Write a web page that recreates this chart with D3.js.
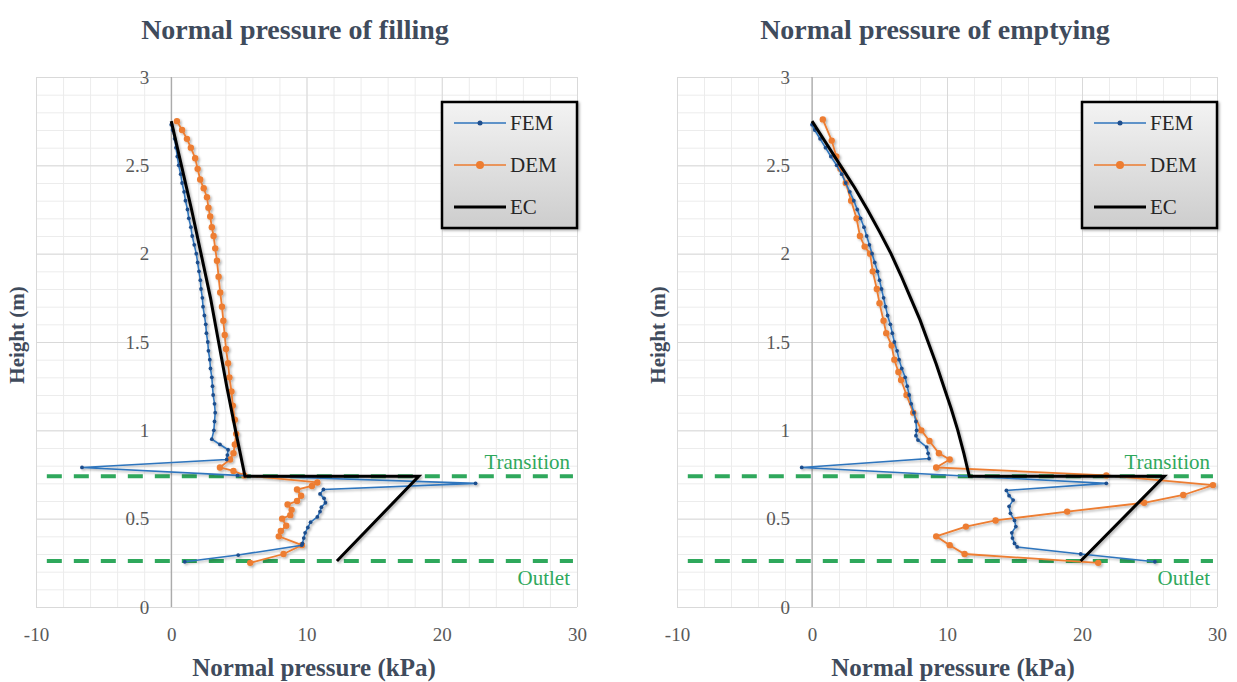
<!DOCTYPE html>
<html>
<head>
<meta charset="utf-8">
<script src="https://d3js.org/d3.v7.min.js"></script>
<style>
  body { margin: 0; background: #fff; }
  svg { display: block; }
  svg text { font-family: "Liberation Serif", "Times New Roman", "DejaVu Serif", serif !important; }
</style>
</head>
<body>
<div id="chart"></div>
<script>
// axis ticks
var xTicks = [-10, 0, 10, 20, 30];
var yTicks = [0, 0.5, 1, 1.5, 2, 2.5, 3];
var legendNames = ["FEM", "DEM", "EC"];
var transitionHeight = 0.74;
var outletHeight = 0.26;

// points are [normal pressure (kPa), height (m)]
var fillingFEM = [
  [0.0, 2.73], [0.1, 2.7], [0.25, 2.65], [0.35, 2.6], [0.45, 2.55], [0.55, 2.5], [0.7, 2.45], [0.8, 2.4],
  [0.95, 2.35], [1.05, 2.3], [1.2, 2.25], [1.3, 2.2], [1.45, 2.15], [1.55, 2.1], [1.7, 2.05], [1.85, 2.0],
  [1.95, 1.95], [2.05, 1.9], [2.15, 1.85], [2.2, 1.8], [2.3, 1.75], [2.35, 1.7], [2.45, 1.65], [2.55, 1.6],
  [2.6, 1.55], [2.7, 1.5], [2.75, 1.45], [2.85, 1.4], [2.9, 1.35], [3.0, 1.3], [3.05, 1.25], [3.1, 1.2],
  [3.2, 1.15], [3.25, 1.1], [3.2, 1.05], [3.15, 1.0], [3.0, 0.95], [3.6, 0.92], [4.2, 0.89], [4.15, 0.86],
  [4.1, 0.835], [-6.6, 0.79], [4.9, 0.745], [22.5, 0.7], [11.25, 0.665], [11.0, 0.64], [11.3, 0.615],
  [11.4, 0.59], [11.1, 0.565], [11.0, 0.54], [10.8, 0.51], [10.3, 0.48], [10.1, 0.45], [9.9, 0.42],
  [9.8, 0.39], [9.7, 0.36], [9.65, 0.35], [4.95, 0.294], [1.0, 0.256]
];
var fillingDEM = [
  [0.42, 2.75], [0.8, 2.7], [1.16, 2.65], [1.45, 2.6], [1.77, 2.54], [1.95, 2.48], [2.14, 2.42], [2.4, 2.37],
  [2.64, 2.32], [2.75, 2.26], [2.88, 2.21], [3.0, 2.15], [3.13, 2.1], [3.25, 2.03], [3.38, 1.96], [3.5, 1.87],
  [3.62, 1.78], [3.75, 1.7], [3.85, 1.62], [3.95, 1.54], [4.05, 1.46], [4.2, 1.38], [4.3, 1.3], [4.45, 1.22],
  [4.55, 1.14], [4.7, 1.06], [4.8, 0.98], [4.7, 0.92], [4.6, 0.87], [4.35, 0.835], [3.6, 0.79], [4.6, 0.77],
  [5.4, 0.745], [10.8, 0.705], [10.4, 0.685], [9.3, 0.665], [9.6, 0.63], [9.3, 0.6], [8.6, 0.58], [8.9, 0.55],
  [8.8, 0.52], [8.2, 0.5], [8.5, 0.46], [8.1, 0.43], [7.95, 0.4], [9.66, 0.35], [8.3, 0.3], [5.84, 0.25]
];
var fillingEC = [
  [0.0, 2.75], [0.75, 2.5], [1.5, 2.25], [2.2, 2.0], [2.9, 1.75], [3.5, 1.5], [4.1, 1.25], [4.75, 1.0],
  [5.45, 0.74], [18.3, 0.74], [12.25, 0.26]
];

var emptyingFEM = [
  [0.0, 2.73], [0.2, 2.7], [0.6, 2.65], [1.0, 2.6], [1.4, 2.55], [1.83, 2.5], [2.2, 2.45], [2.5, 2.4],
  [2.8, 2.35], [3.1, 2.3], [3.35, 2.25], [3.6, 2.2], [3.85, 2.15], [4.05, 2.1], [4.25, 2.05], [4.45, 2.0],
  [4.65, 1.95], [4.85, 1.9], [5.0, 1.85], [5.15, 1.8], [5.3, 1.75], [5.45, 1.7], [5.6, 1.65], [5.8, 1.6],
  [5.95, 1.55], [6.1, 1.5], [6.3, 1.45], [6.45, 1.4], [6.65, 1.35], [6.9, 1.3], [7.05, 1.25], [7.2, 1.2],
  [7.35, 1.15], [7.55, 1.1], [7.7, 1.05], [7.75, 1.0], [7.7, 0.97], [7.85, 0.945], [8.5, 0.905],
  [8.6, 0.87], [8.67, 0.84], [-0.76, 0.79], [21.8, 0.7], [14.4, 0.66], [14.6, 0.63], [14.9, 0.605],
  [14.6, 0.57], [14.7, 0.53], [15.0, 0.49], [15.1, 0.455], [14.8, 0.42], [14.85, 0.39], [15.0, 0.36],
  [15.2, 0.34], [19.9, 0.3], [25.4, 0.256]
];
var emptyingDEM = [
  [0.8, 2.76], [1.46, 2.64], [1.8, 2.55], [2.1, 2.48], [2.5, 2.4], [2.9, 2.3], [3.3, 2.2], [3.55, 2.1],
  [3.9, 2.04], [4.3, 2.0], [4.5, 1.9], [4.8, 1.8], [5.0, 1.72], [5.3, 1.62], [5.5, 1.55], [5.9, 1.48],
  [6.1, 1.4], [6.4, 1.33], [6.6, 1.285], [7.0, 1.2], [7.5, 1.1], [8.1, 1.0], [8.7, 0.94], [9.4, 0.87],
  [10.2, 0.835], [9.2, 0.79], [21.8, 0.745], [29.7, 0.69], [27.5, 0.634], [24.6, 0.59], [18.9, 0.54],
  [13.6, 0.49], [11.4, 0.455], [9.2, 0.4], [10.2, 0.35], [11.3, 0.3], [21.2, 0.25]
];
var emptyingEC = [
  [0.0, 2.75], [1.05, 2.625], [2.1, 2.5], [3.15, 2.375], [4.1, 2.25], [5.0, 2.125], [5.85, 2.0],
  [6.6, 1.875], [7.3, 1.75], [8.0, 1.625], [8.6, 1.5], [9.2, 1.375], [9.75, 1.25], [10.3, 1.125],
  [10.8, 1.0], [11.25, 0.87], [11.65, 0.74], [26.1, 0.74], [19.9, 0.26]
];

var femColor = "#2f75bd", femMarker = "#1f4e8c";
var demColor = "#ed7d31";
var ecColor = "#000000";
var guideColor = "#2fa85c";
var titleColor = "#3f4b5c";
var serif = "Liberation Serif, Times New Roman, DejaVu Serif, serif";

var width = 1237, height = 682;
var svg = d3.select("#chart").append("svg")
  .attr("width", width)
  .attr("height", height)
  .attr("font-family", serif);

var defs = svg.append("defs");
var shadow = defs.append("filter").attr("id", "shadow")
  .attr("x", "-10%").attr("y", "-10%").attr("width", "130%").attr("height", "130%");
shadow.append("feDropShadow").attr("dx", 1.5).attr("dy", 1.5)
  .attr("stdDeviation", 1.2).attr("flood-color", "#000").attr("flood-opacity", 0.3);
var grad = defs.append("linearGradient").attr("id", "legendFill")
  .attr("x1", 0).attr("y1", 0).attr("x2", 0).attr("y2", 1);
grad.append("stop").attr("offset", "0%").attr("stop-color", "#f3f3f3");
grad.append("stop").attr("offset", "100%").attr("stop-color", "#cdcdcd");

drawChart({
  xRange: [36, 577], title: "Normal pressure of filling", titleX: 295, xTitleX: 314, yTitleX: 24,
  fem: fillingFEM, dem: fillingDEM, ec: fillingEC
});
drawChart({
  xRange: [677, 1217], title: "Normal pressure of emptying", titleX: 935, xTitleX: 953, yTitleX: 665,
  fem: emptyingFEM, dem: emptyingDEM, ec: emptyingEC
});

function drawChart(c) {
  var x = d3.scaleLinear().domain([-10, 30]).range(c.xRange);
  var y = d3.scaleLinear().domain([0, 3]).range([607, 77]);
  var top = y(3), bottom = y(0), left = c.xRange[0], right = c.xRange[1];
  var g = svg.append("g");

  // minor grid
  g.append("g")
    .attr("transform", "translate(0," + bottom + ")")
    .call(d3.axisBottom(x).tickValues(d3.range(-10, 31, 2)).tickSize(-(bottom - top)).tickFormat(""))
    .call(function (s) { s.select(".domain").remove(); s.selectAll("line").attr("stroke", "#ececec"); });
  g.append("g")
    .attr("transform", "translate(" + left + ",0)")
    .call(d3.axisLeft(y).tickValues(d3.range(0, 31).map(function (d) { return d / 10; })).tickSize(-(right - left)).tickFormat(""))
    .call(function (s) { s.select(".domain").remove(); s.selectAll("line").attr("stroke", "#ececec"); });
  // major grid
  g.append("g")
    .attr("transform", "translate(0," + bottom + ")")
    .call(d3.axisBottom(x).tickValues(xTicks).tickSize(-(bottom - top)).tickFormat(""))
    .call(function (s) { s.select(".domain").remove(); s.selectAll("line").attr("stroke", "#d9d9d9"); });
  g.append("g")
    .attr("transform", "translate(" + left + ",0)")
    .call(d3.axisLeft(y).tickValues(yTicks).tickSize(-(right - left)).tickFormat(""))
    .call(function (s) { s.select(".domain").remove(); s.selectAll("line").attr("stroke", "#d9d9d9"); });

  // x = 0 axis line
  g.append("line")
    .attr("x1", x(0)).attr("x2", x(0)).attr("y1", top).attr("y2", bottom)
    .attr("stroke", "#9a9a9a").attr("stroke-width", 1);

  // tick labels
  g.append("g")
    .attr("transform", "translate(0," + bottom + ")")
    .call(d3.axisBottom(x).tickValues(xTicks).tickSize(0).tickPadding(21).tickFormat(function (d) { return String(d); }))
    .attr("font-family", serif)
    .call(function (s) {
      s.select(".domain").remove();
      s.selectAll("text").attr("font-size", 19).attr("fill", "#595959");
    });
  g.append("g")
    .attr("transform", "translate(" + x(0) + ",0)")
    .call(d3.axisLeft(y).tickValues(yTicks).tickSize(0).tickPadding(22).tickFormat(function (d) { return String(d); }))
    .attr("font-family", serif)
    .call(function (s) {
      s.select(".domain").remove();
      s.selectAll("text").attr("font-size", 19).attr("fill", "#595959");
    });

  // transition / outlet guides
  [transitionHeight, outletHeight].forEach(function (h) {
    g.append("line")
      .attr("x1", x(-9.2)).attr("x2", x(29.7)).attr("y1", y(h)).attr("y2", y(h))
      .attr("stroke", guideColor).attr("stroke-width", 4).attr("stroke-dasharray", "15,12");
  });
  g.append("text").attr("x", right - 7).attr("y", y(transitionHeight) - 7)
    .attr("text-anchor", "end").attr("font-size", 21).attr("fill", guideColor).text("Transition");
  g.append("text").attr("x", right - 7).attr("y", y(outletHeight) + 24)
    .attr("text-anchor", "end").attr("font-size", 21).attr("fill", guideColor).text("Outlet");

  // series
  var line = d3.line().x(function (d) { return x(d[0]); }).y(function (d) { return y(d[1]); });
  var series = g.append("g").attr("filter", "url(#shadow)");

  series.append("path").datum(c.dem)
    .attr("d", line).attr("fill", "none").attr("stroke", demColor).attr("stroke-width", 1.8);
  series.append("g").selectAll("circle").data(c.dem).join("circle")
    .attr("cx", function (d) { return x(d[0]); }).attr("cy", function (d) { return y(d[1]); })
    .attr("r", 3.2).attr("fill", demColor);

  series.append("path").datum(c.fem)
    .attr("d", line).attr("fill", "none").attr("stroke", femColor).attr("stroke-width", 1.6);
  series.append("g").selectAll("circle").data(c.fem).join("circle")
    .attr("cx", function (d) { return x(d[0]); }).attr("cy", function (d) { return y(d[1]); })
    .attr("r", 1.9).attr("fill", femMarker);

  series.append("path").datum(c.ec)
    .attr("d", line).attr("fill", "none").attr("stroke", ecColor).attr("stroke-width", 3)
    .attr("stroke-linejoin", "miter");

  // legend
  var lg = g.append("g").attr("transform", "translate(" + (right - 135) + "," + (top + 25) + ")");
  lg.append("rect").attr("width", 135).attr("height", 126)
    .attr("fill", "url(#legendFill)").attr("stroke", "#000").attr("stroke-width", 2.5)
    .attr("filter", "url(#shadow)");
  var colors = [femColor, demColor, ecColor];
  legendNames.forEach(function (name, i) {
    var ly = 21 + i * 42;
    lg.append("line").attr("x1", 12).attr("x2", 64).attr("y1", ly).attr("y2", ly)
      .attr("stroke", colors[i]).attr("stroke-width", i === 2 ? 3 : 1.6);
    if (i < 2) {
      lg.append("circle").attr("cx", 38).attr("cy", ly)
        .attr("r", i === 0 ? 2.5 : 4).attr("fill", i === 0 ? femMarker : demColor);
    }
    lg.append("text").attr("x", 68).attr("y", ly + 7)
      .attr("font-size", 21).attr("fill", "#262626").text(name);
  });

  // titles
  g.append("text").attr("x", c.titleX).attr("y", 39).attr("text-anchor", "middle")
    .attr("font-size", 28).attr("font-weight", "bold").attr("fill", titleColor).text(c.title);
  g.append("text").attr("x", c.xTitleX).attr("y", 676).attr("text-anchor", "middle")
    .attr("font-size", 25).attr("font-weight", "bold").attr("fill", titleColor).text("Normal pressure (kPa)");
  g.append("text").attr("transform", "translate(" + c.yTitleX + ",335) rotate(-90)")
    .attr("text-anchor", "middle").attr("font-size", 21).attr("font-weight", "bold")
    .attr("fill", titleColor).text("Height (m)");
}
</script>
</body>
</html>
